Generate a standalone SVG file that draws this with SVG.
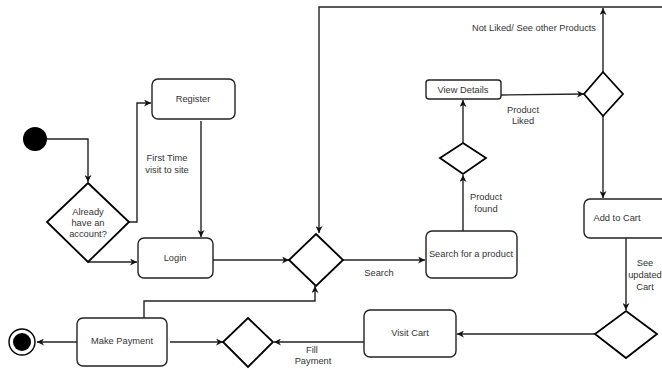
<svg xmlns="http://www.w3.org/2000/svg" width="662" height="369" viewBox="0 0 662 369">
<style>
.n{fill:#fff;stroke:#222;stroke-width:1.4}
.d{fill:#fff;stroke:#000;stroke-width:1.8}
.t{font-family:"Liberation Sans",Arial,sans-serif;font-size:9.3px;fill:#333;text-anchor:middle;dominant-baseline:central}
.c{fill:none;stroke:#222;stroke-width:1.4}
</style>
<defs>
<marker id="a" viewBox="0 0 10 10" refX="10" refY="5" markerWidth="7" markerHeight="7" markerUnits="userSpaceOnUse" orient="auto">
<path d="M0,0 L10,5 L0,10 L3,5 z" fill="#111"/>
</marker>
</defs>
<g id="connectors">
<polyline class="c" points="47,139 88,139 88,182" marker-end="url(#a)"/>
<polyline class="c" points="129,222 137,222 137,103 151,103" marker-end="url(#a)"/>
<line class="c" x1="201" y1="121" x2="201" y2="237" marker-end="url(#a)"/>
<polyline class="c" points="88,262 137,262" marker-end="url(#a)"/>
<polyline class="c" points="213,260 289,260" marker-end="url(#a)"/>
<polyline class="c" points="662,7 319,7 319,233" marker-end="url(#a)"/>
<line class="c" x1="603" y1="72" x2="603" y2="8" marker-end="url(#a)"/>
<line class="c" x1="501" y1="95" x2="584" y2="94" marker-end="url(#a)"/>
<line class="c" x1="463" y1="143" x2="463" y2="100" marker-end="url(#a)"/>
<line class="c" x1="463" y1="231" x2="463" y2="175" marker-end="url(#a)"/>
<line class="c" x1="343" y1="260" x2="425" y2="260" marker-end="url(#a)"/>
<line class="c" x1="603" y1="116" x2="603" y2="198" marker-end="url(#a)"/>
<line class="c" x1="626" y1="238" x2="626" y2="310" marker-end="url(#a)"/>
<line class="c" x1="595" y1="334" x2="457" y2="334" marker-end="url(#a)"/>
<line class="c" x1="364" y1="342" x2="274" y2="342" marker-end="url(#a)"/>
<line class="c" x1="170" y1="342" x2="223" y2="342" marker-end="url(#a)"/>
<polyline class="c" points="144,318 144,301 315,301 315,286" marker-end="url(#a)"/>
<line class="c" x1="77" y1="342" x2="37" y2="342" marker-end="url(#a)"/>
</g>
<g id="start"><circle cx="35" cy="139" r="12" fill="#000"/></g>
<g id="end"><circle cx="22" cy="342" r="13" fill="#fff" stroke="#000" stroke-width="1.4"/><circle cx="22" cy="342" r="9" fill="#000"/></g>
<g id="account"><polygon class="d" points="88,183 129,222 88,262 47,222"/>
<text class="t" x="88" y="212">Already</text><text class="t" x="88" y="223">have an</text><text class="t" x="88" y="234">account?</text></g>
<g id="register"><rect class="n" x="152" y="79" width="83" height="40" rx="6"/><text class="t" x="193" y="99">Register</text></g>
<g id="login"><rect class="n" x="138" y="238" width="75" height="40" rx="6"/><text class="t" x="175" y="258">Login</text></g>
<g id="merge"><polygon class="d" points="316,234 343,260 316,286 289,260"/></g>
<g id="search"><rect class="n" x="426" y="231" width="91" height="47" rx="6"/><text class="t" x="471" y="254">Search for a product</text></g>
<g id="found"><polygon class="d" points="463,143 486,158 463,174 440,158"/></g>
<g id="view"><rect class="n" x="426" y="80" width="75" height="19" rx="3"/><text class="t" x="463" y="90">View Details</text></g>
<g id="liked"><polygon class="d" points="603,72 623,94 603,116 584,94"/></g>
<g id="cart"><rect class="n" x="584" y="199" width="90" height="39" rx="6"/><text class="t" x="617" y="218">Add to Cart</text></g>
<g id="cartdec"><polygon class="d" points="626,311 657,334 626,358 595,334"/></g>
<g id="visit"><rect class="n" x="364" y="310" width="92" height="47" rx="6"/><text class="t" x="410" y="333">Visit Cart</text></g>
<g id="paydec"><polygon class="d" points="248,318 273,342 248,367 223,342"/></g>
<g id="pay"><rect class="n" x="77" y="318" width="90" height="48" rx="6"/><text class="t" x="122" y="341">Make Payment</text></g>
<g id="labels">
<text class="t" x="167" y="158">First Time</text><text class="t" x="167" y="170">visit to site</text>
<text class="t" x="534" y="28">Not Liked/ See other Products</text>
<text class="t" x="523" y="110">Product</text><text class="t" x="523" y="121">Liked</text>
<text class="t" x="486" y="197">Product</text><text class="t" x="486" y="209">found</text>
<text class="t" x="379" y="273">Search</text>
<text class="t" x="645" y="263">See</text><text class="t" x="645" y="275">updated</text><text class="t" x="645" y="287">Cart</text>
<text class="t" x="312" y="350">Fill</text><text class="t" x="313" y="361">Payment</text>
</g>
</svg>
